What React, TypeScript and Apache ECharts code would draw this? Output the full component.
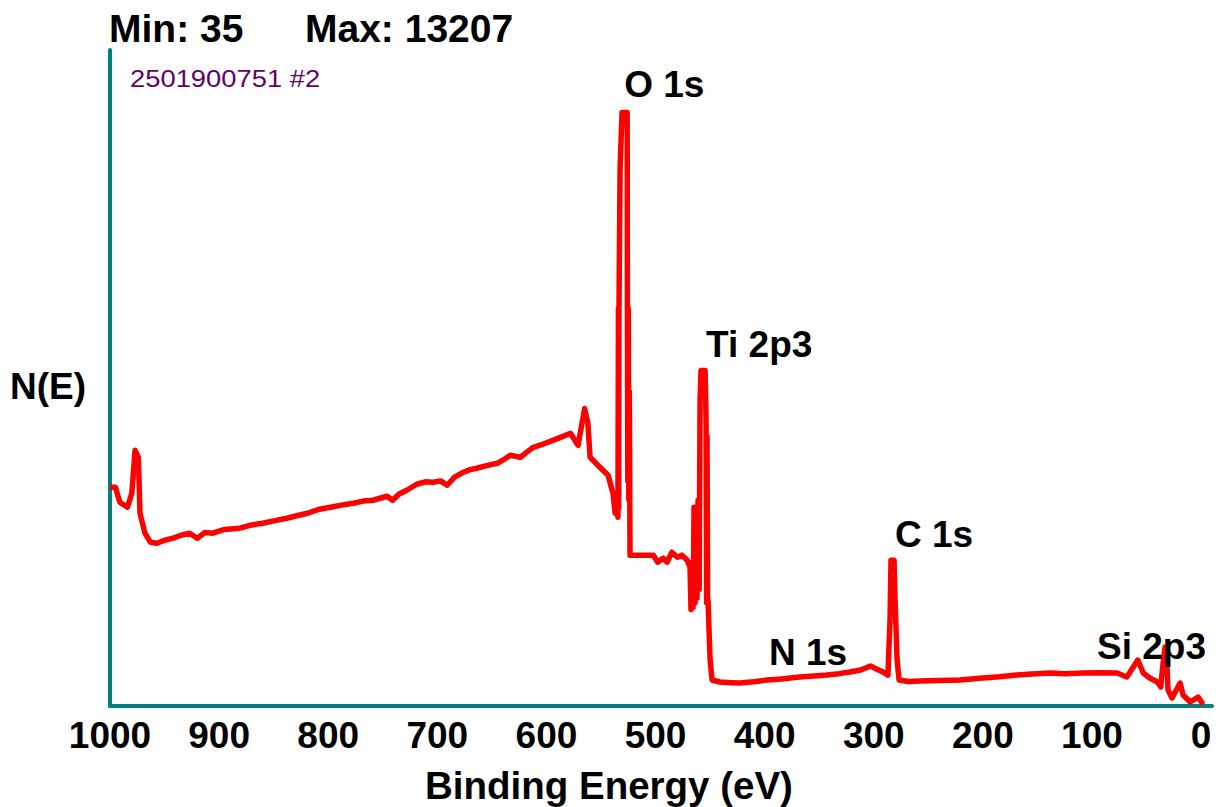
import React, { useEffect, useRef } from "react";
import * as echarts from "echarts";

// Binding energy (eV) and intensity (counts)
const BINDING_ENERGY = [
  1000, 995, 991, 984, 980, 977, 974, 972.5, 968, 963, 957,
  950, 942, 935, 927, 920, 913, 906, 895, 881, 870, 860, 850, 838, 828, 819, 808, 798, 788, 777, 768, 759, 746, 741, 735, 728, 719, 711, 704, 697, 691,
  684, 676, 670, 664, 655, 645, 640, 633, 624, 618, 612, 603, 594, 586, 578, 571, 565, 562, 560, 551, 543.5, 539, 537,
  535.5, 534.5, 534, 533.8, 533.5, 532.5, 530.7, 527, 526, 525.8, 525.4, 525, 524.5, 524, 523.4,
  514, 502, 498, 493, 489.5, 485, 480, 476, 471, 468.4,
  467.5, 466.5, 465.5, 464.7, 463.8, 462.9, 462, 461, 460, 459.2, 458.3, 454.6, 453.7, 453.2, 452.8, 452.3, 451.9, 450, 448.2,
  441, 430, 423, 410, 398, 385, 368, 355, 343, 332, 322, 312, 303, 297, 291.5, 287,
  285.1, 284.2, 281.4, 280.5, 278.6, 276.8,
  268, 258, 240, 221, 200, 185, 169, 155, 138, 125, 108, 92, 77, 68, 58, 53, 47, 40, 37, 35, 33, 32, 30.3, 26.6,
  19.3, 16.5, 10, 2.7, -1.8,
];
const COUNTS = [
  4868, 4870, 4535, 4424, 4735, 5691, 5535, 4290, 3846, 3646, 3623,
  3690, 3735, 3800, 3846, 3735, 3860, 3846, 3930, 3957, 4030, 4068, 4120, 4179, 4240, 4290, 4380, 4424, 4470, 4513, 4560, 4579, 4668, 4579, 4720, 4802, 4935, 4990, 4980, 5010, 4913,
  5100, 5202, 5260, 5291, 5350, 5402, 5470, 5580, 5535, 5650, 5758, 5830, 5913, 5990, 6069, 5802, 6620, 6291, 5535, 5313, 5135, 4735, 4290,
  4500, 4201, 8848, 4400, 8848, 11960, 13207, 13207, 13207, 8848, 5000, 8848, 4600, 7000, 3357,
  3357, 3357, 3201, 3290, 3201, 3423, 3312, 3357, 3246, 3090,
  2150, 3200, 2200, 4424, 2300, 4100, 2400, 4579, 2600, 6802, 7469, 7469, 6358, 2300, 6000, 2300, 2356, 1023, 578,
  534, 520, 511, 540, 578, 600, 645, 670, 689, 720, 756, 800, 889, 820, 756, 689,
  1912, 3246, 3246, 2356, 1023, 578,
  545, 556, 570, 578, 622, 650, 689, 710, 734, 720, 733, 740, 733, 645, 1023, 734, 622, 534, 422, 911, 1312, 1312, 356, 178,
  511, 245, 89, 200, 35,
];

const X_TICKS = [0, 100, 200, 300, 400, 500, 600, 700, 800, 900, 1000];

const PEAK_NAMES = ["O 1s", "Ti 2p3", "C 1s", "N 1s", "Si 2p3"];
const PEAK_LABEL_BE = [492, 405, 244.7, 360.2, 45.4];
const PEAK_LABEL_COUNTS = [13827, 8047, 3824, 1200, 1334];

const MIN_COUNT = 35;
const MAX_COUNT = 13207;
const SAMPLE_ID = "2501900751 #2";
const X_NAME = "Binding Energy (eV)";
const Y_NAME = "N(E)";

const FONT = "'Liberation Sans', Arial, Helvetica, sans-serif";
const TEAL = "#008080";

export default function App() {
  const ref = useRef<HTMLDivElement>(null);

  useEffect(() => {
    if (!ref.current) return;
    const chart = echarts.init(ref.current, null, { renderer: "svg" });
    const lineData = BINDING_ENERGY.map((b, i) => [b, COUNTS[i]]);
    const labelData = PEAK_NAMES.map((n, i) => ({
      name: n,
      value: [PEAK_LABEL_BE[i], PEAK_LABEL_COUNTS[i]],
    }));
    const boldText = {
      fontSize: 37,
      fontWeight: "bold" as const,
      fontFamily: FONT,
      color: "#000",
    };
    chart.setOption({
      animation: false,
      backgroundColor: "#fff",
      title: [
        {
          text: "Min: " + MIN_COUNT,
          left: 109,
          top: 9,
          padding: 0,
          textStyle: { ...boldText, fontSize: 39 },
        },
        {
          text: "Max: " + MAX_COUNT,
          left: 305,
          top: 9,
          padding: 0,
          textStyle: { ...boldText, fontSize: 39 },
        },
      ],
      grid: { left: 110, right: 15, top: 50, bottom: 101 },
      xAxis: {
        type: "value",
        min: -10,
        max: 1000,
        inverse: true,
        axisLine: { show: true, onZero: false, lineStyle: { color: TEAL, width: 4 } },
        axisTick: { show: false },
        splitLine: { show: false },
        axisLabel: {
          customValues: X_TICKS,
          margin: 11,
          formatter: (v: number) => String(v),
          ...boldText,
        },
      },
      yAxis: {
        type: "value",
        min: 0,
        max: 14600,
        axisLine: { show: true, onZero: false, lineStyle: { color: TEAL, width: 4 } },
        axisTick: { show: false },
        axisLabel: { show: false },
        splitLine: { show: false },
      },
      series: [
        {
          type: "line",
          data: lineData,
          showSymbol: false,
          symbol: "none",
          lineStyle: { color: "#ff0000", width: 5.5, join: "round" },
          z: 2,
        },
        {
          type: "scatter",
          data: labelData,
          symbolSize: 0,
          silent: true,
          z: 3,
          itemStyle: { opacity: 1, color: "#000" },
          label: {
            show: true,
            position: "inside",
            formatter: (p: any) => p.name,
            opacity: 1,
            ...boldText,
          },
        },
      ],
      graphic: [
        {
          type: "text",
          x: 130,
          y: 67,
          scaleX: 1.19,
          style: {
            text: SAMPLE_ID,
            fontSize: 23,
            fontFamily: FONT,
            fill: "#660066",
            textVerticalAlign: "top",
          },
        },
        {
          type: "text",
          x: 10,
          y: 368,
          style: {
            text: Y_NAME,
            fontSize: 37,
            fontWeight: "bold",
            fontFamily: FONT,
            fill: "#000",
            textVerticalAlign: "top",
          },
        },
        {
          type: "text",
          x: 425,
          y: 766,
          style: {
            text: X_NAME,
            fontSize: 38.5,
            fontWeight: "bold",
            fontFamily: FONT,
            fill: "#000",
            textVerticalAlign: "top",
          },
        },
      ],
    });
    return () => chart.dispose();
  }, []);

  return (
    <div
      ref={ref}
      style={{ position: "fixed", left: 0, top: 0, width: 1227, height: 807, background: "#fff" }}
    />
  );
}
